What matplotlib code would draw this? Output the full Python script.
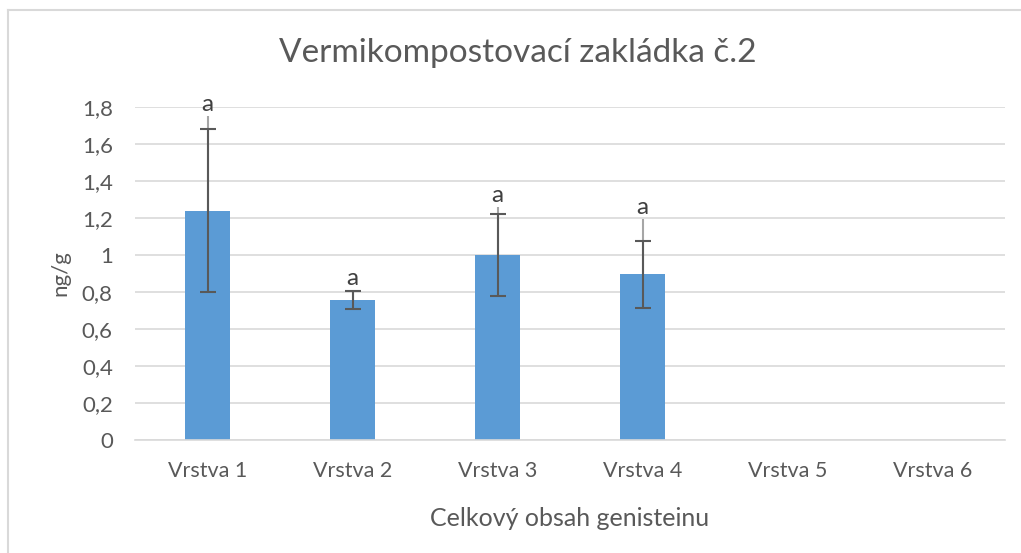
import matplotlib
matplotlib.use("Agg")
import matplotlib.pyplot as plt
from matplotlib.lines import Line2D

plt.rcParams['font.family'] = ['Lato', 'DejaVu Sans']

categories = ["Vrstva 1", "Vrstva 2", "Vrstva 3", "Vrstva 4", "Vrstva 5", "Vrstva 6"]
values = [1.24, 0.757, 1.0, 0.895, None, None]
err_sym = [0.44, 0.05, 0.22, 0.18, None, None]
err_upper_light = [0.51, 0.05, 0.26, 0.30, None, None]
labels = ["a", "a", "a", "a", "", ""]
yticks = [0, 0.2, 0.4, 0.6, 0.8, 1.0, 1.2, 1.4, 1.6, 1.8]
ytick_labels = ["0", "0,2", "0,4", "0,6", "0,8", "1", "1,2", "1,4", "1,6", "1,8"]

txt = "#595959"
fig = plt.figure(figsize=(10.21, 5.53), dpi=100)
ax = fig.add_axes([135/1021, 1 - 440/553, 870/1021, 333/553])

x = list(range(len(categories)))
idx = [i for i, v in enumerate(values) if v is not None]
vals = [values[i] for i in idx]
ax.bar(idx, vals, width=0.31, color="#5b9bd5", zorder=2)

# light upper-only error line
ax.errorbar(idx, vals, yerr=[[0]*len(idx), [err_upper_light[i] for i in idx]],
            fmt='none', ecolor="#a6a6a6", elinewidth=1.5, capsize=0, zorder=3)
# dark symmetric error bars with caps
ax.errorbar(idx, vals, yerr=[err_sym[i] for i in idx], fmt='none',
            ecolor="#595959", elinewidth=1.5, capsize=6, capthick=1.5, zorder=4)

for i in idx:
    top = values[i] + max(err_sym[i], err_upper_light[i])
    ax.annotate(labels[i], (i, top), xytext=(0, 1), textcoords='offset points',
                ha='center', va='bottom', fontsize=17.5, color="#404040")

ax.set_xlim(-0.5, 5.5)
ax.set_ylim(0, 1.8)
ax.set_yticks(yticks)
ax.set_yticklabels(ytick_labels)
ax.set_xticks(x)
ax.set_xticklabels(categories)
ax.yaxis.grid(True, color="#d9d9d9", linewidth=1.2, zorder=0)
ax.set_axisbelow(True)
for s in ['top', 'right', 'left']:
    ax.spines[s].set_visible(False)
ax.spines['bottom'].set_color("#d9d9d9")
ax.spines['bottom'].set_linewidth(1.2)
ax.tick_params(axis='y', length=0, labelsize=16, colors=txt, pad=16)
ax.tick_params(axis='x', length=0, labelsize=15.5, colors=txt, pad=15)

ax.set_ylabel("ng/g", fontsize=16, color=txt, labelpad=8)
ax.set_xlabel("Celkový obsah genisteinu", fontsize=18, color=txt, labelpad=19)
fig.text(518/1021, 1 - 53/553, "Vermikompostovací zakládka č.2", ha='center', va='center',
         fontsize=24, color=txt)

# chart border (top and left visible)
fig.add_artist(Line2D([8/1021, 1.0], [1 - 9.5/553]*2, color="#d9d9d9", lw=1.5, transform=fig.transFigure))
fig.add_artist(Line2D([8/1021]*2, [0, 1 - 9.5/553], color="#d9d9d9", lw=1.5, transform=fig.transFigure))

fig.savefig("out.png", dpi=100, facecolor="white")
